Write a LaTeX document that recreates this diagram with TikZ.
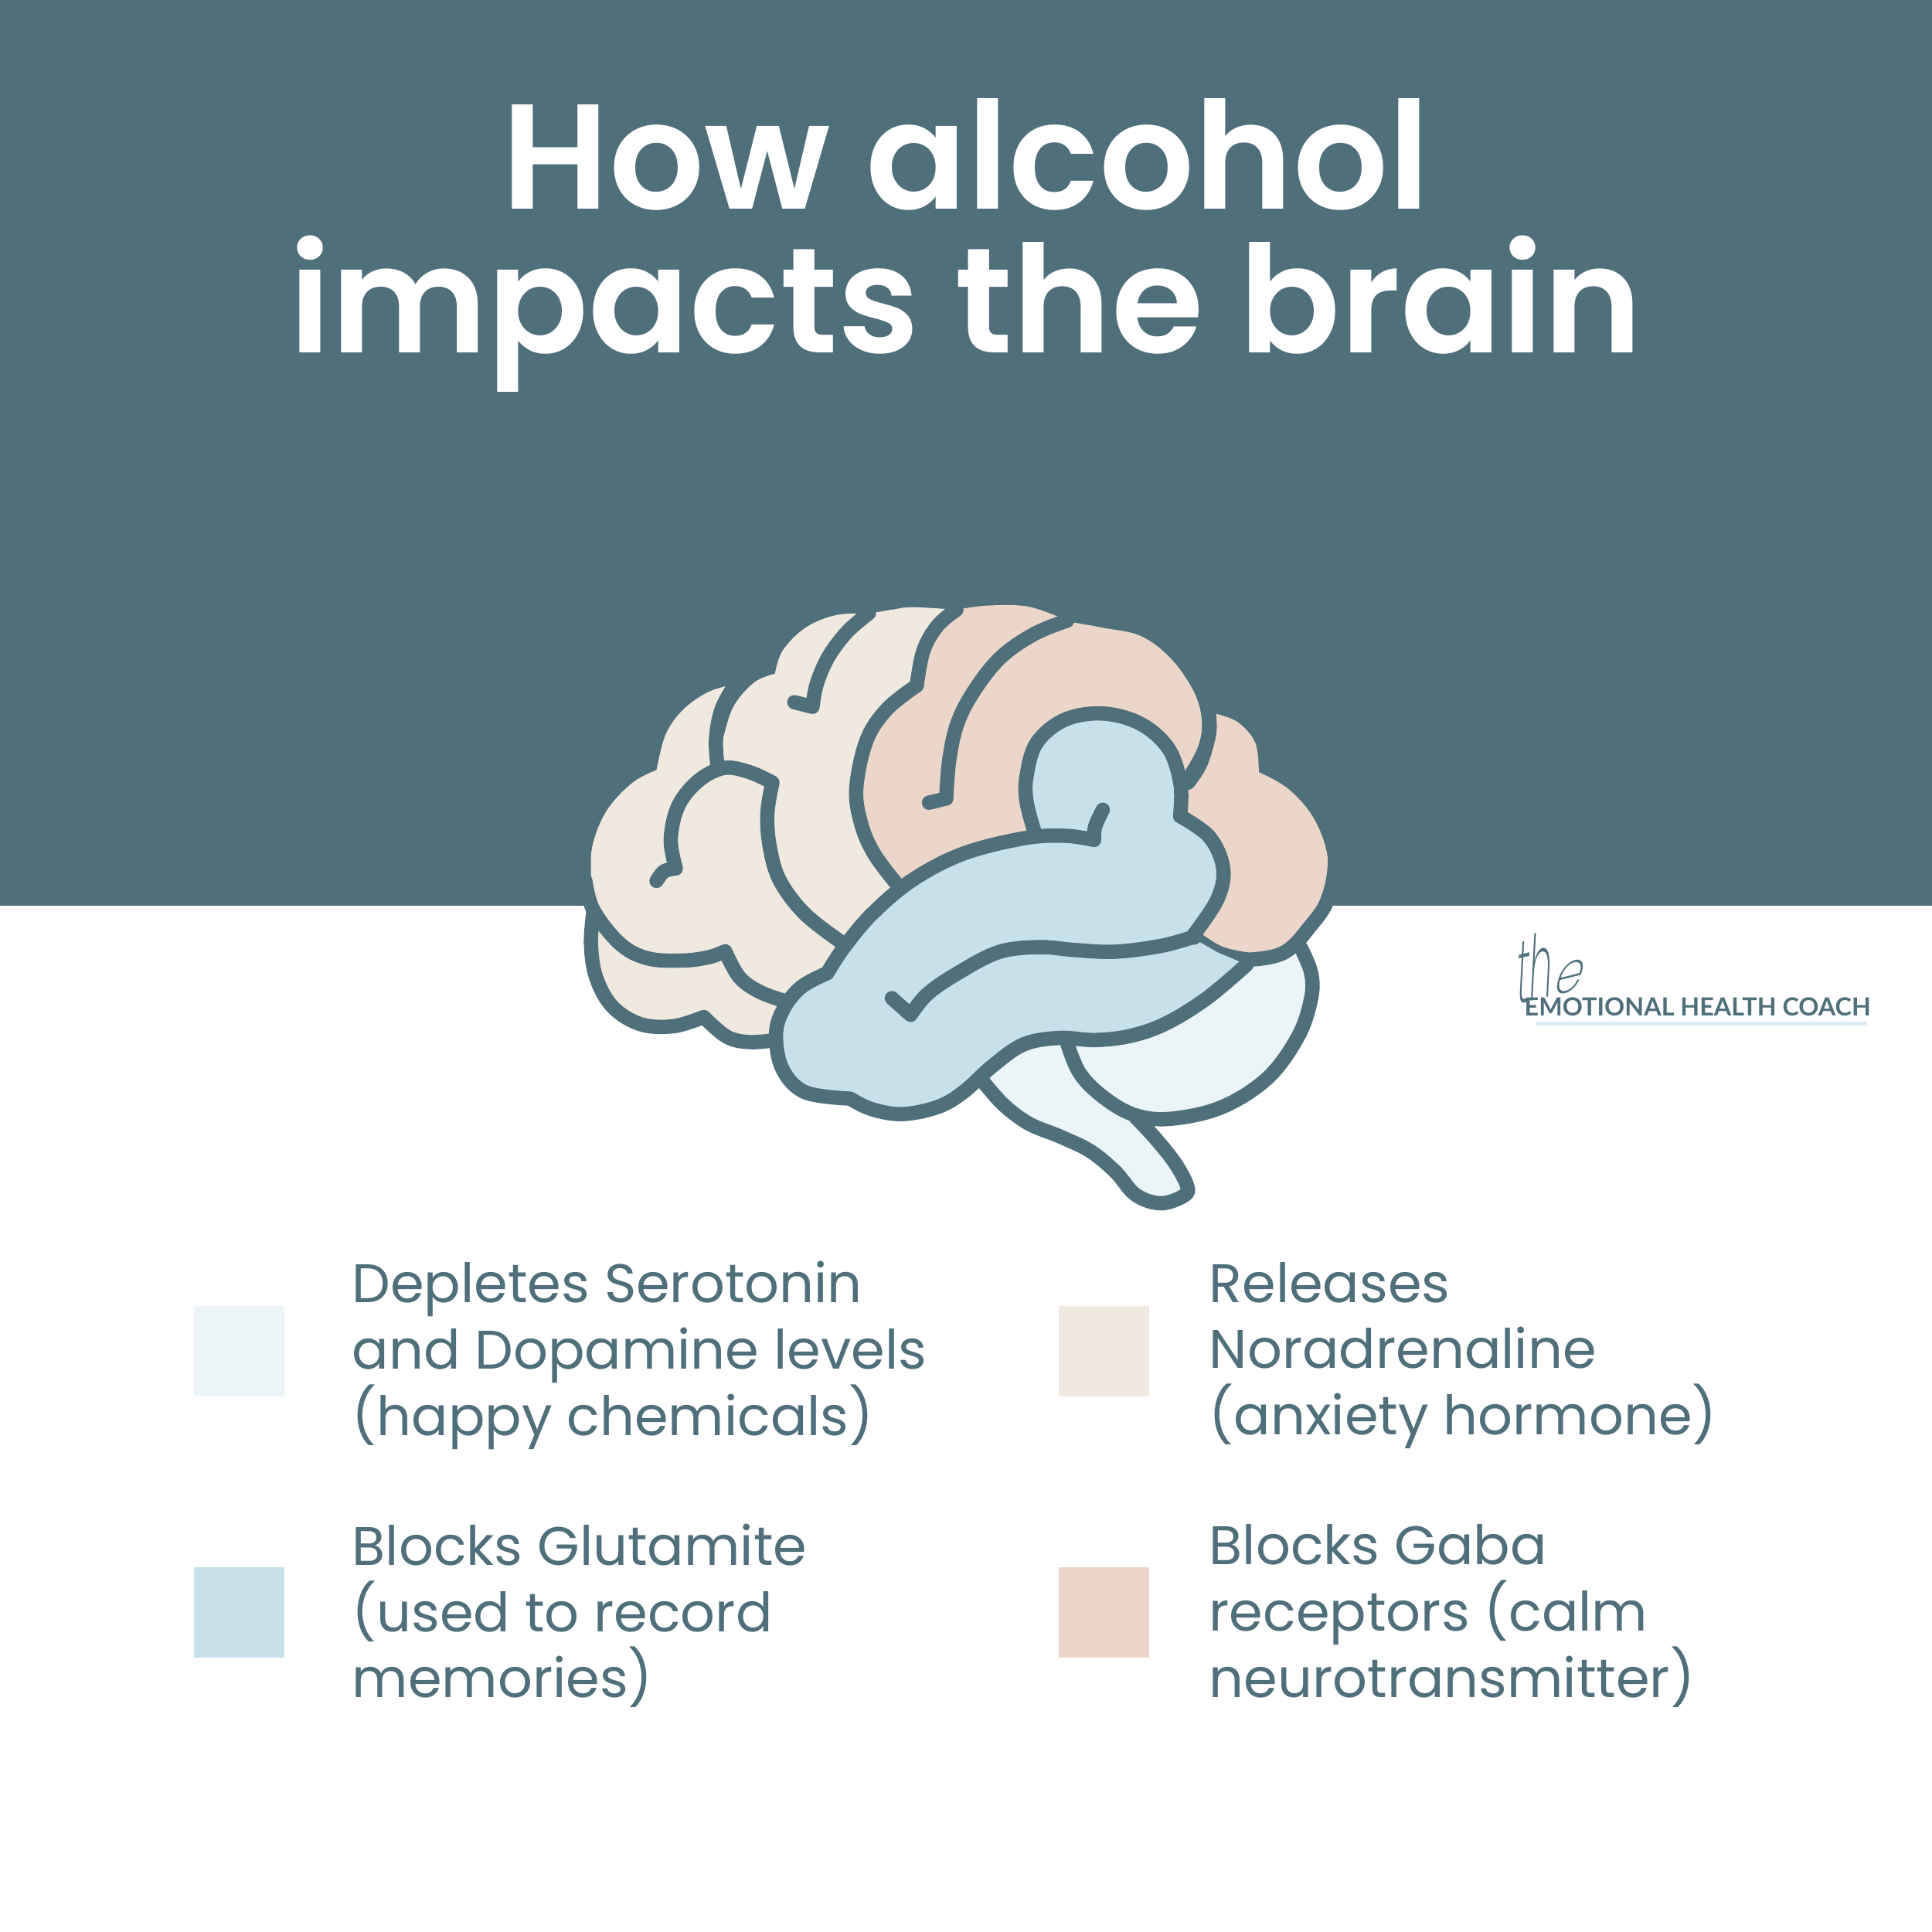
\documentclass[tikz,border=0pt]{standalone}
\usepackage{fontspec}
\setmainfont{Poppins}
\newfontfamily\titlefont{Poppins SemiBold}
\newfontfamily\bodyfont{Poppins}
\newfontfamily\logofont{Lato}
\newfontfamily\handfont[FakeSlant=0.7]{Poppins ExtraLight}
\definecolor{slate}{HTML}{4F6F7B}
\definecolor{oat}{HTML}{F0E9E0}
\definecolor{peach}{HTML}{ECD6C9}
\definecolor{sky}{HTML}{C7E1EA}
\definecolor{mist}{HTML}{EBF4F7}
\definecolor{rule}{HTML}{DCEDF3}
\newcommand{\curve}[1]{-- plot[smooth,tension=.6] coordinates {#1}}
% brain pieces
\def\sulcusB{\curve{(317,447) (314,380) (325,310) (352,250)}}
\def\sulcusC{\curve{(615,80) (572,125) (535,185) (512,250) (504,304)}}
\def\sulcusD{\curve{(668,725) (625,655) (600,585) (590,500) (610,385) (650,310) (709,253)}}
\def\sulcusE{\curve{(787,72) (750,110) (722,170) (709,253)}}
\def\sulcusF{\curve{(1005,98) (940,130) (875,185) (825,260) (790,340) (773,430) (767,523)}}
\def\sulcusG{\curve{(1243,485) (1265,445) (1278,400) (1285,360) (1284,322)}}
\def\rimA{\curve{(73,790) (68,870) (78,950) (110,1020) (165,1062) (230,1067) (290,1045)}}
\def\rimB{\curve{(290,1045) (335,1092) (380,1105) (432,1100)}}
\def\rimC{\curve{(1530,715) (1512,780) (1482,830) (1450,875) (1420,897) (1375,907) (1345,905) (1300,890) (1255,855)}}
\def\budTop{\curve{(940,600) (925,530) (925,470) (945,390) (1000,335) (1075,320) (1150,345) (1205,405) (1228,490) (1227,565)}}
\def\budSide{\curve{(1227,565) (1285,615) (1312,690) (1300,765) (1250,855)}}
\def\bodyLow{\curve{(1358,920) (1280,1000) (1200,1060) (1130,1090) (1060,1100) (990,1095) (920,1110) (860,1160) (800,1225) (750,1260) (680,1277) (620,1265) (578,1240)}}
\def\bodyLeft{\curve{(578,1240) (490,1225) (445,1170) (432,1090) (445,1030) (480,975) (533,940)}}
\def\bodyTop{\curve{(533,940) (565,880) (620,800) (700,718) (800,655) (920,618) (1000,612) (1058,622)}}
\def\backLobe{\curve{(1465,880) (1485,940) (1485,1000) (1460,1090) (1400,1190) (1310,1260) (1210,1288) (1140,1280) (1080,1240) (1030,1180) (1003,1100)}}
\def\stemEdge{\curve{(1140,1285) (1175,1330) (1215,1390) (1240,1445) (1237,1470) (1190,1490) (1140,1470) (1100,1415) (1050,1365) (990,1330) (930,1300) (880,1255) (840,1200)}}
\begin{document}
\begin{tikzpicture}[brainline/.style={line width=0.185cm, line cap=round, line join=round, color=slate},
  swatch/.style={minimum size=1.17cm, inner sep=0pt, anchor=center},
  titletext/.style={text=white, anchor=base, font=\titlefont\fontsize{55}{60}\selectfont},
  legendtext/.style={anchor=west, align=left, inner sep=0pt, text=slate, font=\bodyfont\fontsize{20}{24.4}\selectfont}]
\useasboundingbox (0,0) rectangle (25,25);
\fill [white] (0,0) rectangle (25,25);
\fill [slate] (0,13.28) rectangle (25,25);
\node [titletext] (titleA) at (12.5,22.29) {How alcohol};
\node [titletext] (titleB) at (12.5,20.43) {impacts the brain};

\begin{scope}[shift={(7.20,17.50)}, x=0.00657cm, y=-0.00542cm]
% back of the brain and stem
\fill [mist] (1358,900) -- (1465,880) \backLobe -- (1003,1100) -- (1140,1285) \stemEdge -- (860,1100) -- cycle;
% left half
\fill [oat] (351,250) \curve{(351,250) (300,268) (250,310) (215,370) (197,455)}
  \curve{(197,455) (150,485) (100,550) (72,630) (68,700) (73,790)} \rimA \rimB -- (600,850) \sulcusD
  \curve{(709,253) (722,170) (750,110) (787,72)}
  \curve{(787,72) (700,66) (660,72) (617,80) (550,85) (490,115) (445,170) (430,225)}
  \curve{(430,225) (390,245) (350,300) (330,370) (317,447)} \sulcusB -- cycle;
% right half
\fill [peach] (787,72) \curve{(787,72) (850,62) (930,65) (1005,98)}
  \curve{(1005,100) (1075,115) (1150,135) (1210,190) (1255,270) (1270,340) (1262,400) (1235,460)}
  \sulcusG
  \curve{(1295,320) (1340,340) (1375,390) (1382,460)}
  \curve{(1382,460) (1440,500) (1490,570) (1517,660) (1510,740)} \rimC
  -- (1000,700) \sulcusD \sulcusE -- cycle;
% folds
\draw [brainline] (317,447) \sulcusB;
\draw [brainline] (615,80) \sulcusC -- (468,293);
\draw [brainline] (668,725) \sulcusD;
\draw [brainline] (787,72) \sulcusE;
\draw [brainline] (1005,98) \sulcusF -- (733,533);
\draw [brainline] (1243,485) \sulcusG;
\draw [brainline] (197,720) \curve{(197,720) (212,697) (235,690)} \curve{(235,690) (225,620) (240,540) (280,480) (330,450) (380,460) (425,485)}
  \curve{(425,485) (415,560) (420,640) (440,720) (490,800) (565,870)};
\draw [brainline] (57,720) \curve{(57,720) (73,790) (125,870) (180,905) (250,910) (300,902) (332,888)}
  \curve{(332,888) (360,950) (400,985) (445,1005)};
\draw [brainline] (73,790) \rimA \rimB;
\draw [brainline] (1530,715) \rimC;
\draw [brainline] (1465,880) \backLobe;
\draw [brainline] (1140,1285) \stemEdge;
% middle part on top
\fill [sky] (940,600) \budTop \budSide -- (1300,890) -- (1358,920) \bodyLow \bodyLeft \bodyTop -- cycle;
\draw [brainline] (940,612) \budTop \budSide;
\draw [brainline] (1255,855) \curve{(1250,855) (1190,875) (1100,889) (1020,885) (950,878) (870,890) (790,940) (730,990) (697,1040)} -- (660,1000);
\draw [brainline] (1358,920) \bodyLow \bodyLeft \bodyTop \curve{(1058,622) (1060,590) (1075,550)};
\end{scope}

\node [text=slate, font=\handfont\fontsize{28}{28}\selectfont, rotate=14, inner sep=0pt] (logoThe) at (19.92,12.50) {\scalebox{0.5}[1.15]{th}\scalebox{0.6}[0.7]{e}};
\node [text=slate, font=\logofont\bfseries\fontsize{9.2}{12}\selectfont, anchor=base west, inner sep=0pt] (logoName) at (19.72,11.85) {EMOTIONAL HEALTH COACH};
\fill [rule] (19.87,11.73) rectangle (24.16,11.775);

\node [swatch, fill=mist] (swatchA) at (3.09,7.51) {};
\node [swatch, fill=sky] (swatchB) at (3.09,4.13) {};
\node [swatch, fill=oat] (swatchC) at (14.28,7.51) {};
\node [swatch, fill=peach] (swatchD) at (14.28,4.13) {};
\node [legendtext] (textA) at (4.55,7.46) {Depletes Serotonin\\and Dopamine levels\\(happy chemicals)};
\node [legendtext] (textB) at (4.55,4.09) {Blocks Glutamite\\(used to record\\memories)};
\node [legendtext] (textC) at (15.64,7.46) {Releases\\Noradrenaline\\(anxiety hormone)};
\node [legendtext] (textD) at (15.64,4.09) {Blocks Gaba\\receptors (calm\\neurotransmitter)};
\end{tikzpicture}
\end{document}
